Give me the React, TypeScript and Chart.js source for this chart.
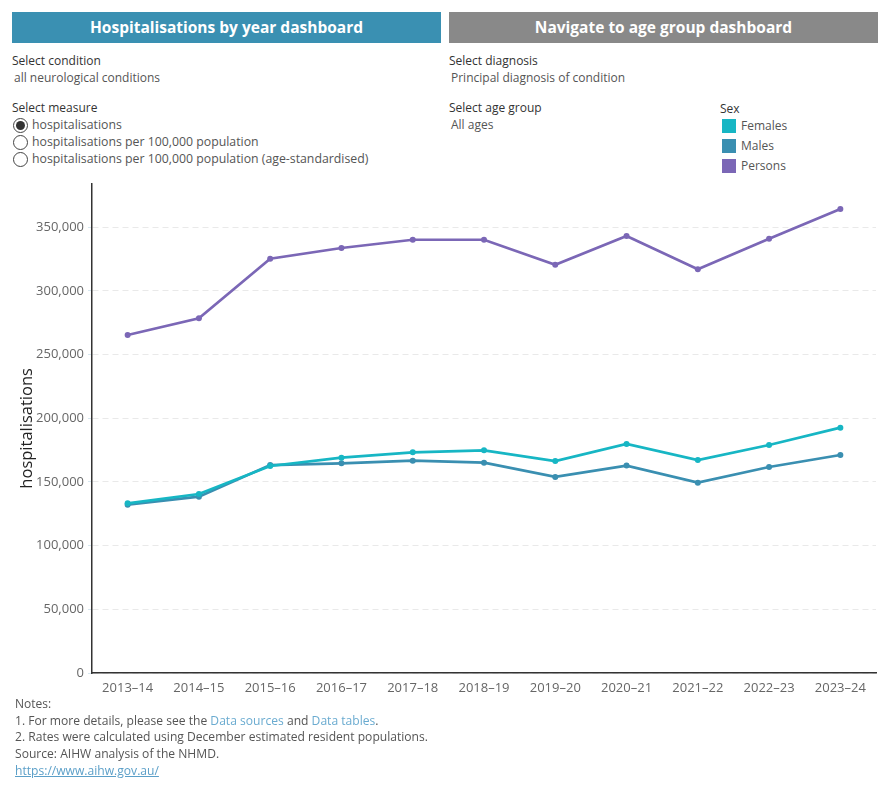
import React, { useEffect, useRef } from "react";
import { Chart, registerables } from "chart.js";

Chart.register(...registerables);

const categories = ["2013–14", "2014–15", "2015–16", "2016–17", "2017–18", "2018–19", "2019–20", "2020–21", "2021–22", "2022–23", "2023–24"];
const females = [133200, 140500, 162500, 169000, 173200, 174800, 166400, 179800, 167200, 179000, 192600];
const males = [132100, 138400, 163200, 164600, 166700, 165100, 153900, 162800, 149400, 161700, 171100];
const persons = [265300, 278400, 325200, 333600, 340100, 340100, 320500, 343000, 316900, 340900, 364200];
const yTicks = [0, 50000, 100000, 150000, 200000, 250000, 300000, 350000];

const FONT = "'Open Sans', 'Noto Sans', sans-serif";
const C_F = "#17b6c4";
const C_M = "#3a8fb1";
const C_P = "#7b67b6";

function ChartCanvas() {
  const ref = useRef<HTMLCanvasElement | null>(null);
  useEffect(() => {
    if (!ref.current) return;
    const mk = (label: string, data: number[], color: string) => ({
      label,
      data,
      borderColor: color,
      backgroundColor: color,
      pointBackgroundColor: color,
      pointBorderWidth: 0,
      pointRadius: 3,
      borderWidth: 2.7,
      tension: 0,
    });
    const chart = new Chart(ref.current, {
      type: "line",
      data: {
        labels: categories,
        datasets: [mk("Females", females, C_F), mk("Males", males, C_M), mk("Persons", persons, C_P)],
      },
      options: {
        animation: false,
        responsive: false,
        maintainAspectRatio: false,
        layout: { padding: { top: 4, right: 14, left: 0, bottom: 0 } },
        plugins: { legend: { display: false }, tooltip: { enabled: false } },
        scales: {
          x: {
            offset: true,
            grid: { display: false, drawTicks: false },
            border: { display: true, color: "#333", width: 1.5 },
            ticks: { color: "#666", font: { family: FONT, size: 13 }, padding: 7, maxRotation: 0, autoSkip: false },
            afterFit: (s: any) => { s.height = 37; },
          },
          y: {
            min: 0,
            max: 384000,
            afterBuildTicks: (s: any) => { s.ticks = yTicks.map((v) => ({ value: v })); },
            grid: { color: "#e9e9e9", lineWidth: 1, tickLength: 4, tickColor: "#d6e7f0" },
            border: { display: true, color: "#333", width: 1.5, dash: [6, 4] },
            ticks: {
              color: "#666",
              font: { family: FONT, size: 13 },
              padding: 4,
              callback: (v: any) => Number(v).toLocaleString("en-US"),
            },
            title: {
              display: true,
              text: "hospitalisations",
              color: "#222",
              font: { family: FONT, size: 16.5, weight: "500" },
              padding: { top: 17, bottom: 0 },
            },
            afterFit: (s: any) => { s.width = 92; },
          },
        },
      },
    });
    return () => chart.destroy();
  }, []);
  return <canvas ref={ref} width={890} height={538} style={{ position: "absolute", left: 0, top: 172, width: 890, height: 538 }} />;
}

const txt = (x: number, y: number, s: string, color = "#555", extra: any = {}) => (
  <div style={{ position: "absolute", left: x, top: y - 9, height: 18, lineHeight: "18px", fontSize: 12, color, whiteSpace: "nowrap", fontFamily: FONT, ...extra }}>{s}</div>
);

function Radio({ x, y, checked }: { x: number; y: number; checked?: boolean }) {
  return (
    <div style={{ position: "absolute", left: x - 7.5, top: y - 7.5, width: 13, height: 13, borderRadius: "50%", border: "1px solid #444", background: "#fff", boxSizing: "content-box" }}>
      {checked && <div style={{ position: "absolute", left: 2, top: 2, width: 9, height: 9, borderRadius: "50%", background: "#333" }} />}
    </div>
  );
}

export default function App() {
  return (
    <div style={{ position: "absolute", left: 0, top: 0, width: 890, height: 800, background: "#fff", fontFamily: FONT, overflow: "hidden" }}>
      <div style={{ position: "absolute", left: 12, top: 12, width: 429, height: 31, background: "#3a90b2", color: "#fff", fontWeight: 700, fontSize: 15.5, lineHeight: "31px", textAlign: "center" }}>Hospitalisations by year dashboard</div>
      <div style={{ position: "absolute", left: 449, top: 12, width: 429, height: 31, background: "#898989", color: "#fff", fontWeight: 700, fontSize: 15.5, lineHeight: "31px", textAlign: "center" }}>Navigate to age group dashboard</div>

      {txt(12, 61, "Select condition", "#333")}
      {txt(14, 78, "all neurological conditions")}
      {txt(12, 108, "Select measure", "#333")}
      <Radio x={20} y={125} checked />
      <Radio x={20} y={142} />
      <Radio x={20} y={159} />
      {txt(32, 125, "hospitalisations", "#555", { fontSize: 12.3 })}
      {txt(32, 142, "hospitalisations per 100,000 population", "#555", { fontSize: 12.3 })}
      {txt(32, 159, "hospitalisations per 100,000 population (age-standardised)", "#555", { fontSize: 12.3 })}

      {txt(449, 61, "Select diagnosis", "#333")}
      {txt(451, 78, "Principal diagnosis of condition")}
      {txt(449, 108, "Select age group", "#333")}
      {txt(451, 125, "All ages")}

      {txt(720, 109, "Sex", "#333")}
      {[["Females", C_F], ["Males", C_M], ["Persons", C_P]].map(([l, c], i) => (
        <React.Fragment key={l}>
          <div style={{ position: "absolute", left: 722, top: 119 + i * 20, width: 14, height: 14, background: c }} />
          {txt(741, 126 + i * 20, l)}
        </React.Fragment>
      ))}

      <ChartCanvas />

      {txt(15, 704, "Notes:")}
      <div style={{ position: "absolute", left: 15, top: 712, height: 18, lineHeight: "18px", fontSize: 12.1, color: "#555", whiteSpace: "nowrap" }}>
        1. For more details, please see the <span style={{ color: "#6aabd0" }}>Data sources</span> and <span style={{ color: "#6aabd0" }}>Data tables</span>.
      </div>
      {txt(15, 737, "2. Rates were calculated using December estimated resident populations.", "#555", { fontSize: 12.1 })}
      {txt(15, 754, "Source: AIHW analysis of the NHMD.", "#555", { fontSize: 12.1 })}
      {txt(15, 771, "https://www.aihw.gov.au/", "#5b9fc8", { textDecoration: "underline", fontSize: 12.1 })}
    </div>
  );
}
